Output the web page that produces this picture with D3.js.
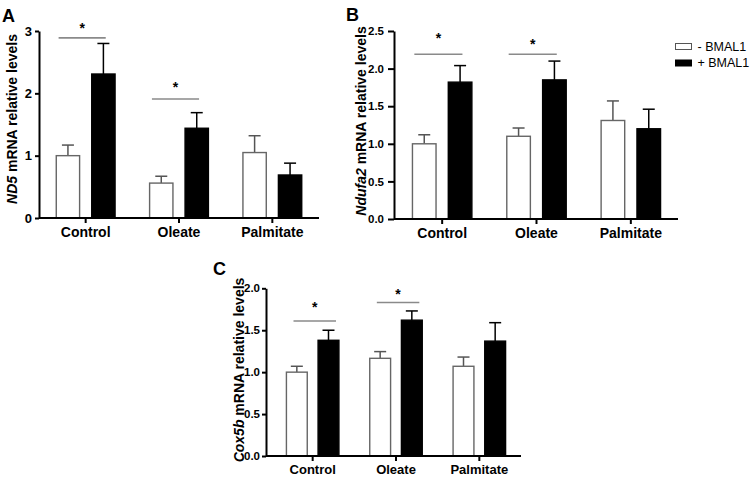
<!DOCTYPE html>
<html>
<head>
<meta charset="utf-8">
<script src="https://cdn.jsdelivr.net/npm/d3@7"></script>
<style>
  body { margin: 0; background: #fff; }
  svg { display: block; font-family: "Liberation Sans", Arial, sans-serif; }
</style>
</head>
<body>
<svg id="chart" width="751" height="479"></svg>
<script>
// ---------------- DATA ----------------
const categories = ["Control", "Oleate", "Palmitate"];
const seriesNames = ["- BMAL1", "+ BMAL1"];

// Panel A : ND5
const nd5Minus    = [1.00, 0.56, 1.05];
const nd5MinusErr = [0.17, 0.11, 0.27];
const nd5Plus     = [2.31, 1.44, 0.69];
const nd5PlusErr  = [0.49, 0.25, 0.19];
const nd5Ticks    = [0, 1, 2, 3];
const nd5SigCats  = ["Control", "Oleate"];
const nd5SigLine  = [2.89, 1.91];
const nd5SigStar  = [3.10, 2.16];

// Panel B : Ndufa2
const ndufa2Minus    = [1.00, 1.10, 1.31];
const ndufa2MinusErr = [0.12, 0.11, 0.26];
const ndufa2Plus     = [1.82, 1.85, 1.20];
const ndufa2PlusErr  = [0.22, 0.25, 0.26];
const ndufa2Ticks    = [0, 0.5, 1.0, 1.5, 2.0, 2.5];
const ndufa2SigCats  = ["Control", "Oleate"];
const ndufa2SigLine  = [2.19, 2.19];
const ndufa2SigStar  = [2.46, 2.37];

// Panel C : Cox5b
const cox5bMinus    = [1.00, 1.165, 1.07];
const cox5bMinusErr = [0.07, 0.08, 0.11];
const cox5bPlus     = [1.38, 1.62, 1.37];
const cox5bPlusErr  = [0.12, 0.11, 0.22];
const cox5bTicks    = [0, 0.5, 1.0, 1.5, 2.0];
const cox5bSigCats  = ["Control", "Oleate"];
const cox5bSigLine  = [1.61, 1.83];
const cox5bSigStar  = [1.82, 1.98];

// ---------------- DRAW ----------------
const svg = d3.select("#chart");
const FONT = "'Liberation Sans', Arial, sans-serif";

function panel(cfg) {
  const g = svg.append("g");
  const x = d3.scaleBand().domain(categories).range([cfg.xb0, cfg.xb1]).padding(0);
  const bw = x.bandwidth();
  const sub = d3.scaleBand().domain([0, 1]).range([-0.315 * bw, 0.315 * bw]).paddingInner(0.342);
  const y = d3.scaleLinear().domain([0, d3.max(cfg.ticks)]).range([cfg.y0, cfg.y1]);

  const rows = categories.map((c, i) => ({
    c, vals: [cfg.minus[i], cfg.plus[i]], errs: [cfg.minusErr[i], cfg.plusErr[i]]
  }));

  // bars with error bars
  rows.forEach(r => {
    const cx = x(r.c) + bw / 2;
    r.vals.forEach((v, k) => {
      const bx = cx + sub(k);
      const w = sub.bandwidth();
      const top = y(v), etop = y(v + r.errs[k]);
      const col = k === 0 ? "#555" : "#000";
      g.append("line").attr("x1", bx + w / 2).attr("x2", bx + w / 2)
        .attr("y1", top).attr("y2", etop).attr("stroke", col).attr("stroke-width", 1.5);
      g.append("line").attr("x1", bx + w / 2 - 6).attr("x2", bx + w / 2 + 6)
        .attr("y1", etop).attr("y2", etop).attr("stroke", col).attr("stroke-width", 1.5);
      g.append("rect")
        .attr("x", bx).attr("y", top).attr("width", w).attr("height", y(0) - top)
        .attr("fill", k === 0 ? "#fff" : "#000")
        .attr("stroke", k === 0 ? "#666" : "#000").attr("stroke-width", 1.4);
    });
  });

  // significance markers
  cfg.sigCats.forEach((c, i) => {
    const cx = x(c) + bw / 2;
    const ly = y(cfg.sigLine[i]);
    const xa = cx + cfg.sigFrom * bw, xb = cx + cfg.sigTo * bw;
    g.append("line").attr("x1", xa).attr("x2", xb).attr("y1", ly).attr("y2", ly)
      .attr("stroke", "#8a8a8a").attr("stroke-width", 1.6);
    g.append("text").attr("x", (xa + xb) / 2).attr("y", y(cfg.sigStar[i]))
      .attr("dy", "0.62em").attr("text-anchor", "middle")
      .attr("font-size", 14).attr("font-weight", "bold").text("*");
  });

  // y axis
  const ya = g.append("g").attr("transform", `translate(${cfg.x0},0)`)
    .call(d3.axisLeft(y).tickValues(cfg.ticks).tickFormat(cfg.fmt)
      .tickSize(cfg.yTick).tickSizeOuter(0).tickPadding(cfg.yPad));
  ya.selectAll("text").attr("font-size", cfg.tickFont).attr("font-weight", "bold")
    .attr("fill", "#000").style("font-family", FONT);
  ya.selectAll("line").attr("stroke", "#000").attr("stroke-width", 2);
  ya.select(".domain").attr("stroke", "#000").attr("stroke-width", 2);

  // x axis
  const xa = g.append("g").attr("transform", `translate(0,${cfg.y0})`)
    .call(d3.axisBottom(x).tickSize(5).tickSizeOuter(0).tickPadding(4));
  xa.selectAll("text").attr("font-size", cfg.catFont).attr("font-weight", "bold")
    .attr("fill", "#000").style("font-family", FONT);
  xa.selectAll("line").attr("stroke", "#000").attr("stroke-width", 2);
  xa.select(".domain").attr("d", `M${cfg.x0},0H${cfg.xb1}`)
    .attr("stroke", "#000").attr("stroke-width", 2);

  // y label
  const lab = g.append("text")
    .attr("transform", `translate(${cfg.labX},${cfg.labY}) rotate(-90)`)
    .attr("text-anchor", "middle").attr("font-size", 14).attr("font-weight", "bold");
  lab.append("tspan").attr("font-style", "italic").text(cfg.gene);
  lab.append("tspan").text(" mRNA relative levels");

  // panel letter
  g.append("text").attr("x", cfg.letterX).attr("y", cfg.letterY)
    .attr("font-size", 18).attr("font-weight", "bold").text(cfg.letter);
}

panel({
  minus: nd5Minus, minusErr: nd5MinusErr, plus: nd5Plus, plusErr: nd5PlusErr,
  ticks: nd5Ticks, sigCats: nd5SigCats, sigLine: nd5SigLine, sigStar: nd5SigStar,
  fmt: d3.format("d"), gene: "ND5", letter: "A",
  x0: 39, xb0: 39, xb1: 319, y0: 218, y1: 31, sigFrom: -0.29, sigTo: 0.215,
  yTick: 4, yPad: 3,
  tickFont: 13, catFont: 14, labX: 16.5, labY: 119, letterX: 2, letterY: 22
});

panel({
  minus: ndufa2Minus, minusErr: ndufa2MinusErr, plus: ndufa2Plus, plusErr: ndufa2PlusErr,
  ticks: ndufa2Ticks, sigCats: ndufa2SigCats, sigLine: ndufa2SigLine, sigStar: ndufa2SigStar,
  fmt: d3.format(".1f"), gene: "Ndufa2", letter: "B",
  x0: 394, xb0: 395, xb1: 678, y0: 219, y1: 31, sigFrom: -0.295, sigTo: 0.215,
  yTick: 6, yPad: 4,
  tickFont: 11.5, catFont: 14, labX: 366, labY: 121, letterX: 346, letterY: 21
});

panel({
  minus: cox5bMinus, minusErr: cox5bMinusErr, plus: cox5bPlus, plusErr: cox5bPlusErr,
  ticks: cox5bTicks, sigCats: cox5bSigCats, sigLine: cox5bSigLine, sigStar: cox5bSigStar,
  fmt: d3.format(".1f"), gene: "Cox5b", letter: "C",
  x0: 266, xb0: 271, xb1: 521, y0: 456, y1: 288.3, sigFrom: -0.23, sigTo: 0.28,
  yTick: 4, yPad: 2,
  tickFont: 11.5, catFont: 13, labX: 244, labY: 370, letterX: 213, letterY: 275
});

// legend
const leg = svg.append("g");
seriesNames.forEach((s, i) => {
  const yy = 46.5 + i * 16.5;
  leg.append("rect").attr("x", 675.5).attr("y", yy - 3).attr("width", 16).attr("height", 6)
    .attr("fill", i === 0 ? "#fff" : "#000").attr("stroke", i === 0 ? "#555" : "#000").attr("stroke-width", 1);
  leg.append("text").attr("x", 697.5).attr("y", yy).attr("dy", "0.35em")
    .attr("font-size", 12.5).text(s);
});
</script>
</body>
</html>
